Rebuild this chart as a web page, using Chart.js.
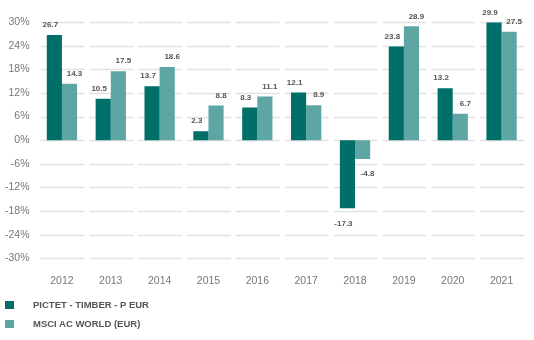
<!DOCTYPE html>
<html>
<head>
<meta charset="utf-8">
<script src="https://cdn.jsdelivr.net/npm/chart.js@4"></script>
<style>
  body { margin: 0; background: #fff; font-family: "Liberation Sans", Arial, sans-serif; }
  #wrap { position: relative; width: 534px; height: 340px; }
  #chartBox { position: absolute; left: 0; top: 0; width: 534px; height: 303px; }
  .leg { position: absolute; left: 5px; font-size: 9.5px; font-weight: bold; color: #555; }
  .leg span { display: inline-block; width: 9px; height: 8px; vertical-align: middle; margin-right: 19px; }
</style>
</head>
<body>
<div id="wrap">
  <div id="chartBox"><canvas id="perfChart"></canvas></div>
  <div class="leg" id="leg1" style="top:299px"></div>
  <div class="leg" id="leg2" style="top:318px"></div>
</div>
<script>
// Data
const years = ['2012', '2013', '2014', '2015', '2016', '2017', '2018', '2019', '2020', '2021'];
const timber = [26.7, 10.5, 13.7, 2.3, 8.3, 12.1, -17.3, 23.8, 13.2, 29.9];
const msci = [14.3, 17.5, 18.6, 8.8, 11.1, 8.9, -4.8, 28.9, 6.7, 27.5];
const seriesNames = ['PICTET - TIMBER - P EUR', 'MSCI AC WORLD (EUR)'];
const seriesColors = ['#006e69', '#5ea6a3'];

// Legend
document.getElementById('leg1').innerHTML = `<span style="background:${seriesColors[0]}"></span>${seriesNames[0]}`;
document.getElementById('leg2').innerHTML = `<span style="background:${seriesColors[1]}"></span>${seriesNames[1]}`;

// Segmented grid lines, one piece per category
const segGrid = {
  id: 'segGrid',
  beforeDatasetsDraw(chart) {
    const ctx = chart.ctx;
    const x = chart.scales.x, y = chart.scales.y;
    const step = (x.right - x.left) / years.length;
    ctx.save();
    ctx.strokeStyle = '#e2e2e2';
    ctx.lineWidth = 1.5;
    y.ticks.forEach(t => {
      const py = Math.round(y.getPixelForValue(t.value)) + 0.5;
      years.forEach((yr, i) => {
        const cx = x.getPixelForValue(i);
        ctx.beginPath();
        ctx.moveTo(cx - step / 2 + 3, py);
        ctx.lineTo(cx + step / 2 - 2, py);
        ctx.stroke();
      });
    });
    ctx.restore();
  }
};

// Value labels
const valLabels = {
  id: 'valLabels',
  afterDatasetsDraw(chart) {
    const ctx = chart.ctx;
    ctx.save();
    ctx.font = 'bold 8px "Liberation Sans", Arial, sans-serif';
    ctx.fillStyle = '#555';
    ctx.textAlign = 'center';
    ctx.textBaseline = 'middle';
    chart.data.datasets.forEach((ds, di) => {
      chart.getDatasetMeta(di).data.forEach((bar, i) => {
        const v = ds.data[i];
        const dx = di === 0 ? -4 : 5;
        const py = v >= 0 ? bar.y - 10 : bar.y + 15;
        ctx.fillText(v.toFixed(1), bar.x + dx, py);
      });
    });
    ctx.restore();
  }
};

const ctx = document.getElementById('perfChart').getContext('2d');
const perfChart = new Chart(ctx, {
  type: 'bar',
  data: {
    labels: years,
    datasets: [
      { label: seriesNames[0], data: timber, backgroundColor: seriesColors[0] },
      { label: seriesNames[1], data: msci, backgroundColor: seriesColors[1] }
    ]
  },
  options: {
    responsive: true,
    maintainAspectRatio: false,
    animation: false,
    layout: { padding: { top: 22, right: 8, left: 0, bottom: 0 } },
    datasets: { bar: { categoryPercentage: 0.62, barPercentage: 1 } },
    plugins: { legend: { display: false }, tooltip: { enabled: false } },
    scales: {
      x: {
        grid: { display: false, drawTicks: false },
        border: { display: false },
        ticks: { color: '#777', font: { size: 10.5, family: '"Liberation Sans", Arial, sans-serif' }, padding: 16 }
      },
      y: {
        min: -30,
        max: 30,
        grid: { display: false, drawTicks: false },
        border: { display: false },
        afterFit(scale) { scale.width = 37.5; },
        ticks: {
          stepSize: 6,
          padding: 8,
          color: '#777',
          font: { size: 10.5, family: '"Liberation Sans", Arial, sans-serif' },
          callback: v => v + '%'
        }
      }
    }
  },
  plugins: [segGrid, valLabels]
});
</script>
</body>
</html>
